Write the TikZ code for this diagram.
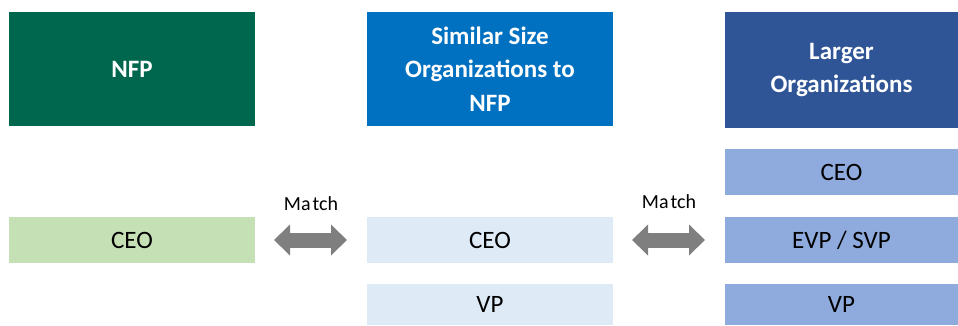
\documentclass[tikz,border=0pt]{standalone}
\usepackage{fontspec}
\setmainfont{Carlito}
\usetikzlibrary{positioning,arrows.meta,calc}
\definecolor{NfpGreen}{RGB}{0,103,79}
\definecolor{NfpRow}{RGB}{197,224,180}
\definecolor{PeerBlue}{RGB}{0,112,192}
\definecolor{PeerRow}{RGB}{222,235,247}
\definecolor{LargeNavy}{RGB}{47,85,151}
\definecolor{LargeRow}{RGB}{143,170,220}
\definecolor{LinkGray}{RGB}{127,127,127}

\begin{document}
\begin{tikzpicture}[
  x=1pt, y=-1pt,
  hdr/.style={
    rectangle, outer sep=0pt, inner sep=2pt, align=center, text=white,
    font=\bfseries\fontsize{25}{33.5}\selectfont,
    minimum width=246pt, minimum height=114pt
  },
  lvl/.style={
    rectangle, outer sep=0pt, inner sep=0pt, align=center, text=black,
    font=\fontsize{25}{30}\selectfont,
    minimum width=246pt, minimum height=46pt
  },
  matchlink/.style={
    draw=LinkGray, line width=15pt,
    {Triangle[length=16pt,width=30pt]}-{Triangle[length=16pt,width=30pt]},
    shorten <=19pt, shorten >=20pt
  },
  matchlabel/.style={font=\fontsize{20}{24}\selectfont, text=black}
]
\useasboundingbox (0,0) rectangle (958,325);

% Column headers
\node[hdr, fill=NfpGreen, anchor=north west] (nfp) at (9,12) {NFP};
\node[hdr, fill=PeerBlue, right=112pt of nfp] (peer) {Similar Size\\Organizations to\\NFP};
\node[hdr, fill=LargeNavy, right=112pt of peer, minimum width=233pt, minimum height=116pt, yshift=-1pt] (large) {Larger\\Organizations};

% Levels of the larger organizations
\node[lvl, fill=LargeRow, minimum width=233pt, anchor=north west] (lgceo) at (725,149) {CEO};
\node[lvl, fill=LargeRow, minimum width=233pt, below=22pt of lgceo] (lgevp) {EVP / SVP};
\node[lvl, fill=LargeRow, minimum width=233pt, minimum height=41pt, below=21pt of lgevp] (lgvp) {VP};

% Levels in the other two columns, lined up with the rows on the right
\node[lvl, fill=NfpRow] (nfpceo) at (nfp |- lgevp) {CEO};
\node[lvl, fill=PeerRow] (peerceo) at (peer |- lgevp) {CEO};
\node[lvl, fill=PeerRow, minimum height=41pt] (peervp) at (peer |- lgvp) {VP};

% Match arrows
\draw[matchlink] (nfpceo.east) -- (peerceo.west)
  node[midway, yshift=36pt, matchlabel] {Ma\kern2pt tch};
\draw[matchlink] (peerceo.east) -- (lgevp.west)
  node[midway, yshift=38pt, matchlabel] {Ma\kern2pt tch};

\end{tikzpicture}
\end{document}
